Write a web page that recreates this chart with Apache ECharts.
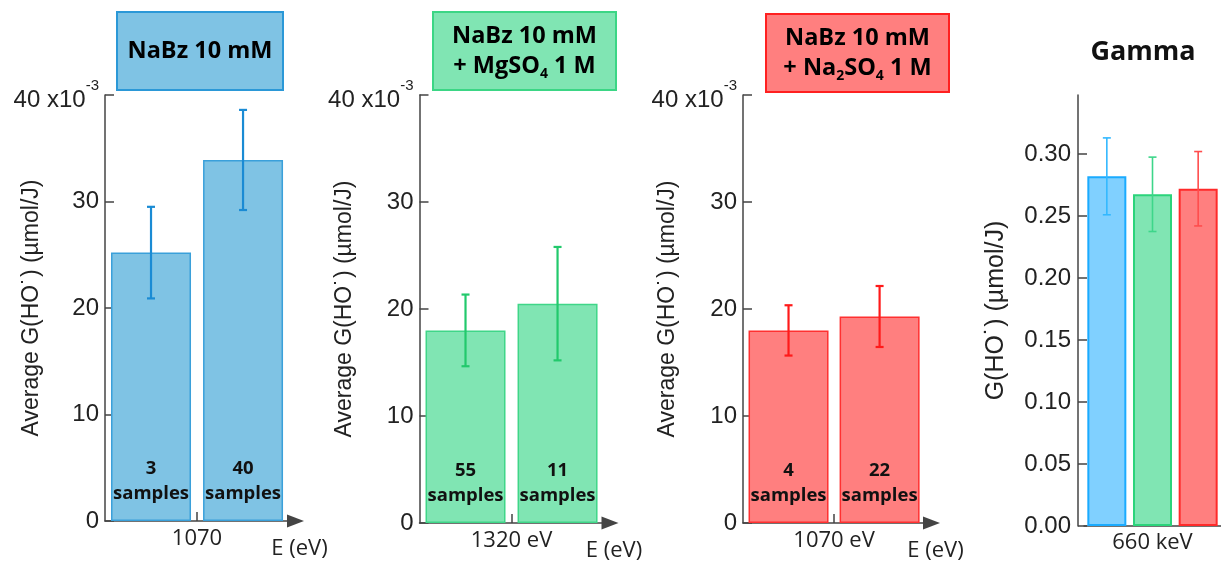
<!DOCTYPE html>
<html>
<head>
<meta charset="utf-8">
<script src="https://cdn.jsdelivr.net/npm/echarts@6/dist/echarts.min.js"></script>
<style>
  html, body { margin: 0; padding: 0; background: #ffffff; }
  #chart { width: 1221px; height: 563px; }
</style>
</head>
<body>
<div id="chart"></div>
<script>
// ---- data (G values of panels 1-3 are in units of 10^-3 µmol/J) ----
const nabzValues = [25.2, 33.9];
const nabzErrors = [4.3, 4.7];
const nabzSamples = [3, 40];

const mgso4Values = [18.0, 20.5];
const mgso4Errors = [3.35, 5.3];
const mgso4Samples = [55, 11];

const na2so4Values = [18.0, 19.3];
const na2so4Errors = [2.35, 2.85];
const na2so4Samples = [4, 22];

const gammaCategories = ['NaBz 10 mM', 'NaBz 10 mM + MgSO4 1 M', 'NaBz 10 mM + Na2SO4 1 M'];
const gammaValues = [0.282, 0.2675, 0.272];
const gammaErrors = [0.031, 0.030, 0.030];

const energyLabels = ['1070', '1320 eV', '1070 eV'];
const gammaEnergyLabel = '660 keV';
const milliTicks = [0, 10, 20, 30, 40];
const gammaTicks = [0, 0.05, 0.10, 0.15, 0.20, 0.25, 0.30];
const xAxisName = 'E (eV)';
const milliAxisName = 'Average G(HO˙) (µmol/J)';
const gammaAxisName = 'G(HO˙) (µmol/J)';

// ---- styles ----
const ARIAL = '"Liberation Sans", Arial, sans-serif';
const CAL = '"Open Sans", sans-serif';
const AXIS_COLOR = '#444444';
const TEXT_COLOR = '#222222';

const panels = [
  { values: nabzValues, errors: nabzErrors, samples: nabzSamples, energy: energyLabels[0],
    fill: '#7fc3e4', border: '#3aa0da', err: '#1a8bd4',
    grid: { left: 105, top: 95, width: 190.5, height: 426 }, nameGap: 62 },
  { values: mgso4Values, errors: mgso4Errors, samples: mgso4Samples, energy: energyLabels[1],
    fill: '#80e5b3', border: '#3fd688', err: '#22c96c',
    grid: { left: 419.5, top: 95, width: 190.5, height: 428 }, nameGap: 63 },
  { values: na2so4Values, errors: na2so4Errors, samples: na2so4Samples, energy: energyLabels[2],
    fill: '#ff7f7f', border: '#ff3030', err: '#ff1a1a',
    grid: { left: 743, top: 95, width: 188.5, height: 428 }, nameGap: 64 }
];
const gammaFill = panels.map(p => p.fill);
gammaFill[0] = '#80d0ff';
const gammaBorder = ['#1aabff', '#2bd47b', '#ff2a2a'];
const gammaErrColor = ['#33b8ff', '#3dd68a', '#ff4d4d'];

function errorSeries(xi, data, colorFn, lineWidth, halfCap) {
  return {
    type: 'custom', xAxisIndex: xi, yAxisIndex: xi, z: 10,
    encode: { x: 0, y: [1, 2] },
    data: data,
    renderItem: function (params, api) {
      const x = api.value(0);
      const lo = api.coord([x, api.value(1)]);
      const hi = api.coord([x, api.value(2)]);
      const style = { stroke: colorFn(params.dataIndex), lineWidth: lineWidth };
      return {
        type: 'group',
        children: [
          { type: 'line', shape: { x1: lo[0], y1: lo[1], x2: hi[0], y2: hi[1] }, style: style },
          { type: 'line', shape: { x1: hi[0] - halfCap, y1: hi[1], x2: hi[0] + halfCap, y2: hi[1] }, style: style },
          { type: 'line', shape: { x1: lo[0] - halfCap, y1: lo[1], x2: lo[0] + halfCap, y2: lo[1] }, style: style }
        ]
      };
    }
  };
}

const grids = [], xAxes = [], yAxes = [], series = [];

panels.forEach((p, i) => {
  grids.push(Object.assign({ containLabel: false }, p.grid));
  xAxes.push({
    gridIndex: i, type: 'value', min: 0, max: 2.07,
    axisLine: { show: true, symbol: ['none', 'triangle'], symbolSize: [13, 17],
      lineStyle: { color: AXIS_COLOR, width: 1.5 } },
    axisTick: { show: true, inside: true, length: 9, customValues: [1],
      lineStyle: { color: AXIS_COLOR, width: 1.5 } },
    axisLabel: { show: true, customValues: [1], formatter: () => p.energy, margin: 7,
      fontFamily: CAL, fontSize: 22, color: TEXT_COLOR },
    splitLine: { show: false },
    name: xAxisName, nameLocation: 'end', nameGap: 4, nameMoveOverlap: false,
    nameTextStyle: { align: 'center', verticalAlign: 'top', padding: [17, 0, 0, 0],
      fontFamily: CAL, fontSize: 22, color: TEXT_COLOR }
  });
  yAxes.push({
    gridIndex: i, type: 'value', min: 0, max: 40, interval: 10,
    axisLine: { show: true, lineStyle: { color: AXIS_COLOR, width: 1.5 } },
    axisTick: { show: true, inside: true, length: 9, lineStyle: { color: AXIS_COLOR, width: 1.5 } },
    axisLabel: {
      show: true, margin: 6, fontFamily: ARIAL, fontSize: 24, color: TEXT_COLOR,
      customValues: milliTicks,
      formatter: v => v === 40 ? '{m|40 x10}{s|-3}' : String(v),
      rich: {
        m: { fontFamily: ARIAL, fontSize: 24, color: TEXT_COLOR, padding: [10, 0, 0, 0] },
        s: { fontFamily: ARIAL, fontSize: 15, color: TEXT_COLOR, verticalAlign: 'top', lineHeight: 15 }
      }
    },
    splitLine: { show: false },
    name: milliAxisName, nameLocation: 'middle', nameGap: p.nameGap, nameMoveOverlap: false,
    nameTextStyle: { fontFamily: ARIAL, fontSize: 23, color: TEXT_COLOR }
  });
  series.push({
    type: 'bar', xAxisIndex: i, yAxisIndex: i, barWidth: 80,
    data: p.values.map((v, k) => [k + 0.5, v]),
    itemStyle: { color: p.fill, borderColor: p.border, borderWidth: 1.5 },
    label: {
      show: true, position: 'insideBottom', distance: 15,
      formatter: prm => p.samples[prm.dataIndex] + '\nsamples',
      fontFamily: CAL, fontWeight: 'bold', fontSize: 18.5, lineHeight: 25, color: '#111111'
    },
    animation: false
  });
  series.push(errorSeries(i,
    p.values.map((v, k) => [k + 0.5, v - p.errors[k], v + p.errors[k]]),
    () => p.err, 2.2, 4));
});

// gamma panel
grids.push({ left: 1084, top: 95, width: 139.5, height: 431 });
xAxes.push({
  gridIndex: 3, type: 'category', data: gammaCategories, boundaryGap: true,
  axisLine: { show: true, lineStyle: { color: AXIS_COLOR, width: 1.5 } },
  axisTick: { show: true, inside: true, length: 9, alignWithLabel: true,
    interval: idx => idx === 1, lineStyle: { color: AXIS_COLOR, width: 1.5 } },
  axisLabel: { show: true, interval: idx => idx === 1, formatter: () => gammaEnergyLabel,
    margin: 6, fontFamily: CAL, fontSize: 22, color: TEXT_COLOR },
  splitLine: { show: false }
});
yAxes.push({
  gridIndex: 3, type: 'value', min: 0, max: 0.3476, offset: 6,
  axisLine: { show: true, lineStyle: { color: AXIS_COLOR, width: 1.5 } },
  axisTick: { show: true, inside: true, length: 9, customValues: gammaTicks,
    lineStyle: { color: AXIS_COLOR, width: 1.5 } },
  axisLabel: { show: true, customValues: gammaTicks, margin: 7,
    formatter: v => v.toFixed(2), fontFamily: ARIAL, fontSize: 24, color: TEXT_COLOR },
  splitLine: { show: false },
  name: gammaAxisName, nameLocation: 'middle', nameGap: 69, nameMoveOverlap: false,
  nameTextStyle: { fontFamily: ARIAL, fontSize: 25, color: TEXT_COLOR }
});
series.push({
  type: 'bar', xAxisIndex: 3, yAxisIndex: 3, barWidth: 39,
  data: gammaValues.map((v, k) => ({
    value: v,
    itemStyle: { color: gammaFill[k], borderColor: gammaBorder[k], borderWidth: 2 }
  })),
  animation: false
});
series.push(errorSeries(3,
  gammaValues.map((v, k) => [k, v - gammaErrors[k], v + gammaErrors[k]]),
  k => gammaErrColor[k], 1.6, 4));

// title boxes
const titleRich = {
  a: { fontFamily: CAL, fontWeight: 'bold', fontSize: 23.5, lineHeight: 30, color: '#111111' },
  b: { fontFamily: CAL, fontWeight: 'bold', fontSize: 14, lineHeight: 12, verticalAlign: 'bottom', color: '#111111' }
};
const titleBoxes = [
  { x: 117, y: 12, w: 166, h: 78, text: '{a|NaBz 10 mM}', p: 0 },
  { x: 433, y: 12, w: 183, h: 78, text: '{a|NaBz 10 mM}\n{a|+ MgSO}{b|4}{a| 1 M}', p: 1 },
  { x: 766, y: 14, w: 183, h: 78, text: '{a|NaBz 10 mM}\n{a|+ Na}{b|2}{a|SO}{b|4}{a| 1 M}', p: 2 }
];
const titleBorder = ['#2b98d7', '#3bd685', '#ff2020'];
const graphic = [];
titleBoxes.forEach(t => {
  graphic.push({ type: 'rect', shape: { x: t.x, y: t.y, width: t.w, height: t.h },
    style: { fill: panels[t.p].fill, stroke: titleBorder[t.p], lineWidth: 2 } });
  graphic.push({ type: 'text', x: t.x + t.w / 2, y: t.y + t.h / 2,
    style: { text: t.text, rich: titleRich, align: 'center', verticalAlign: 'middle' } });
});
graphic.push({ type: 'text', x: 1143, y: 52,
  style: { text: 'Gamma', fontFamily: CAL, fontWeight: 'bold', fontSize: 27, fill: '#111111',
    align: 'center', verticalAlign: 'middle' } });

const chart = echarts.init(document.getElementById('chart'), null, { renderer: 'canvas' });
chart.setOption({
  animation: false,
  backgroundColor: '#ffffff',
  grid: grids,
  xAxis: xAxes,
  yAxis: yAxes,
  series: series,
  graphic: graphic
});
</script>
</body>
</html>
